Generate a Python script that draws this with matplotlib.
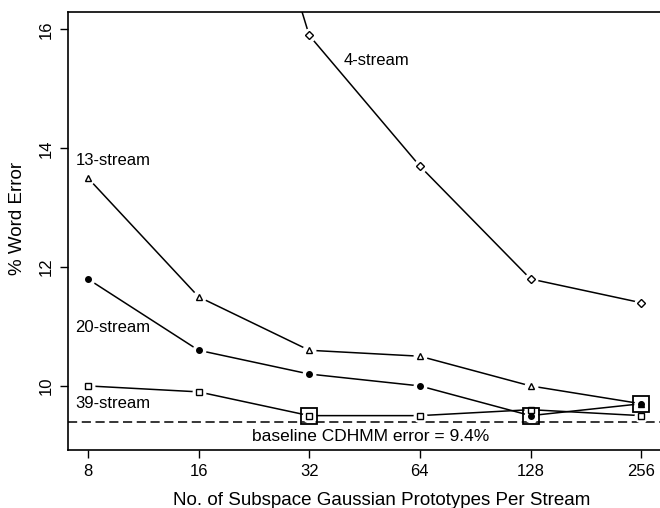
import matplotlib
matplotlib.use("Agg")
import matplotlib.pyplot as plt

plt.rcParams['font.family'] = ['Liberation Sans', 'DejaVu Sans']

prototypes = [8, 16, 32, 64, 128, 256]
x_ticklabels = ["8", "16", "32", "64", "128", "256"]

stream4_x = [16, 32, 64, 128, 256]
stream4 = [22.0, 15.9, 13.7, 11.8, 11.4]
stream13 = [13.5, 11.5, 10.6, 10.5, 10.0, 9.7]
stream20 = [11.8, 10.6, 10.2, 10.0, 9.5, 9.7]
stream39 = [10.0, 9.9, 9.5, 9.5, 9.6, 9.5]
baseline = 9.4

best_x = [32, 128, 256]
best_y = [9.5, 9.5, 9.7]

fig = plt.figure(figsize=(6.6, 5.08), dpi=100)
ax = fig.add_axes([0.103, 0.114, 0.897, 0.862])

def draw(xs, ys, marker, fill):
    ax.plot(xs, ys, color='black', lw=1.1, zorder=2)
    ax.plot(xs, ys, linestyle='none', marker='o', ms=9, mfc='white', mec='white', zorder=3)
    ax.plot(xs, ys, linestyle='none', marker=marker, ms=4,
            mfc='black' if fill else 'white', mec='black', mew=1.0, zorder=4)

draw(stream4_x, stream4, 'D', False)
draw(prototypes, stream13, '^', False)
draw(prototypes, stream20, 'o', True)
draw(prototypes, stream39, 's', False)

ax.plot(best_x, best_y, linestyle='none', marker='s', ms=11, mfc='none',
        mec='black', mew=1.3, zorder=5)

ax.axhline(baseline, color='black', lw=1.1, linestyle=(0, (6, 3)), zorder=1)

ax.text(39.7, 15.48, "4-stream", fontsize=12, va='center', ha='left')
ax.text(7.4, 13.8, "13-stream", fontsize=12, va='center', ha='left')
ax.text(7.4, 10.99, "20-stream", fontsize=12, va='center', ha='left')
ax.text(7.4, 9.71, "39-stream", fontsize=12, va='center', ha='left')
ax.text(46.9, 9.15, "baseline CDHMM error = 9.4%", fontsize=12.5, va='center', ha='center')

ax.set_xscale('log', base=2)
ax.set_xlim(2 ** 2.82, 2 ** 8.17)
ax.set_ylim(8.92, 16.29)
ax.set_xticks(prototypes)
ax.set_xticklabels(x_ticklabels)
ax.minorticks_off()
ax.set_yticks([10, 12, 14, 16])
ax.set_yticklabels(["10", "12", "14", "16"], rotation=90, va='center')
ax.tick_params(direction='out', length=6, width=1, labelsize=12, pad=4)
ax.spines['right'].set_visible(False)
for s in ['left', 'top', 'bottom']:
    ax.spines[s].set_linewidth(1.2)

ax.set_xlabel("No. of Subspace Gaussian Prototypes Per Stream", fontsize=13.5)
ax.set_ylabel("% Word Error", fontsize=13.5)
ax.xaxis.set_label_coords(0.53, -0.095)
ax.yaxis.set_label_coords(-0.071, 0.53)

fig.savefig("out.png", dpi=100)
